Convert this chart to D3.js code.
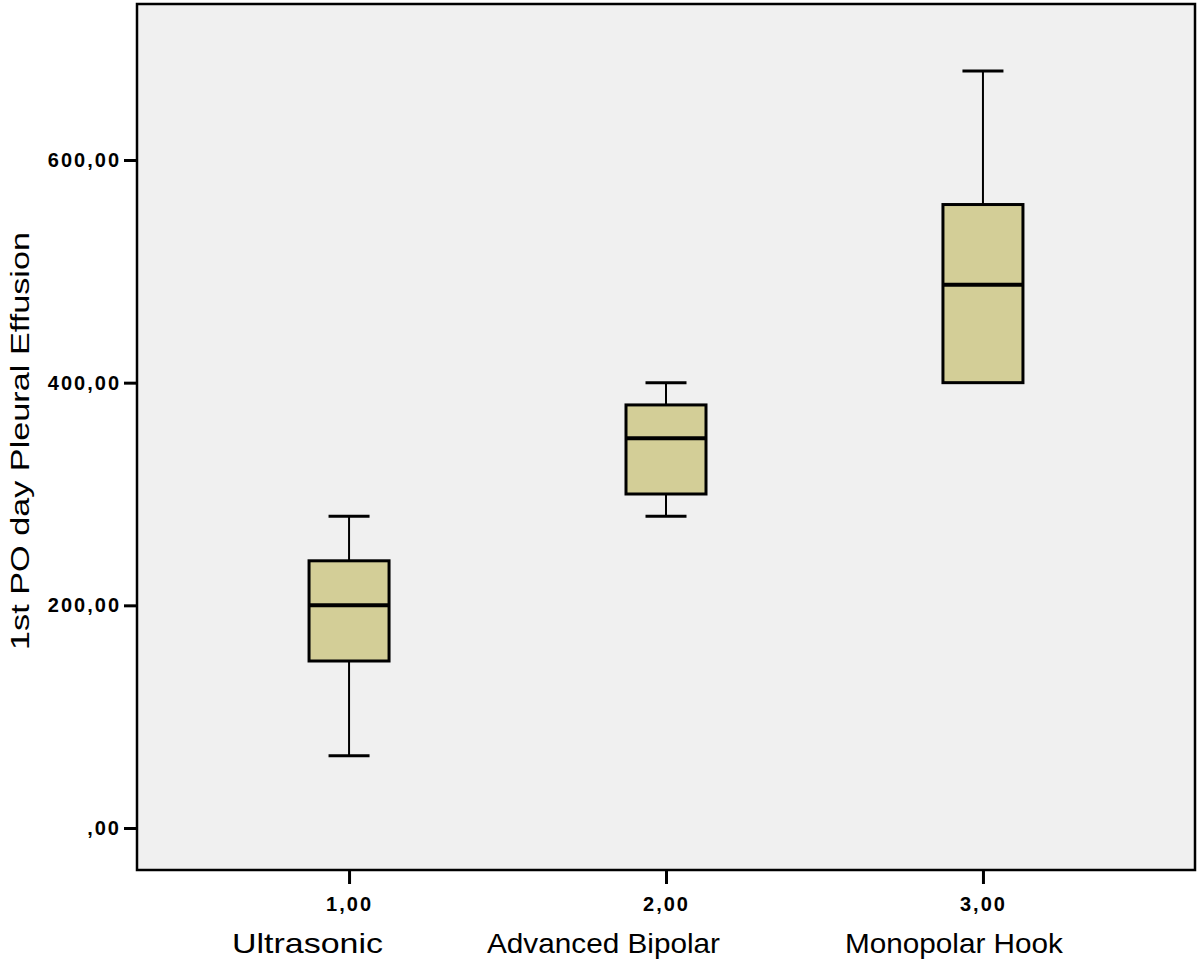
<!DOCTYPE html>
<html>
<head>
<meta charset="utf-8">
<script src="https://cdn.jsdelivr.net/npm/d3@7"></script>
<style>
  html, body { margin: 0; padding: 0; background: #fff; }
  svg { display: block; }
</style>
</head>
<body>
<svg id="chart"></svg>
<script>
// 分组数据
const categories = ["1,00", "2,00", "3,00"];
const groupNames = ["Ultrasonic", "Advanced Bipolar", "Monopolar Hook"];
const whiskerLow = [65, 280, 400];
const quartile1 = [150, 300, 400];
const medians = [200, 350, 488];
const quartile3 = [240, 380, 560];
const whiskerHigh = [280, 400, 680];
const yTicks = [0, 200, 400, 600];
const yTitle = "1st PO day Pleural Effusion";

const width = 1200;
const height = 963;
const plot = { left: 137, right: 1195, top: 4, bottom: 870 };

const svg = d3.select("#chart")
  .attr("width", width)
  .attr("height", height)
  .style("font-family", "Arial, 'Liberation Sans', sans-serif");

const x = d3.scalePoint()
  .domain(categories)
  .range([plot.left, plot.right])
  .padding(0.669);

const y = d3.scaleLinear()
  .domain([0, 600])
  .range([828, 160]);

const boxes = categories.map((c, i) => ({
  cat: c,
  name: groupNames[i],
  lo: whiskerLow[i],
  q1: quartile1[i],
  med: medians[i],
  q3: quartile3[i],
  hi: whiskerHigh[i],
}));

// 背景
svg.append("rect")
  .attr("x", plot.left)
  .attr("y", plot.top)
  .attr("width", plot.right - plot.left)
  .attr("height", plot.bottom - plot.top)
  .attr("fill", "#f0f0f0");

const styleTicks = (g) => {
  g.select(".domain").remove();
  g.selectAll(".tick line").attr("stroke", "#000").attr("stroke-width", 3);
  g.selectAll(".tick text")
    .attr("fill", "#000")
    .style("font-size", "20px")
    .style("font-weight", "bold")
    .style("letter-spacing", "2px");
};

// y 轴
const yAxis = d3.axisLeft(y)
  .tickValues(yTicks)
  .tickSize(13)
  .tickPadding(3)
  .tickFormat((d) => (d === 0 ? "" : d) + ",00");

svg.append("g")
  .attr("transform", `translate(${plot.left},0)`)
  .call(yAxis)
  .call(styleTicks);

// x 轴
const xAxis = d3.axisBottom(x).tickSize(14).tickPadding(13);

svg.append("g")
  .attr("transform", `translate(0,${plot.bottom})`)
  .call(xAxis)
  .call(styleTicks);

// 组名
const labelDx = [-117, -179, -138];
const labelLen = [151, 233, 218];
svg.append("g")
  .selectAll("text")
  .data(boxes)
  .join("text")
  .attr("x", (d, i) => x(d.cat) + labelDx[i])
  .attr("y", 953)
  .attr("textLength", (d, i) => labelLen[i])
  .attr("lengthAdjust", "spacingAndGlyphs")
  .style("font-size", "28px")
  .attr("fill", "#000")
  .text((d) => d.name);

// y 轴标题
svg.append("text")
  .attr("transform", `translate(29,${441}) rotate(-90)`)
  .attr("text-anchor", "middle")
  .attr("textLength", 418)
  .attr("lengthAdjust", "spacingAndGlyphs")
  .style("font-size", "26px")
  .attr("fill", "#000")
  .text(yTitle);

// 箱线图
const boxW = 80;
const capW = 41;
const g = svg.append("g").selectAll("g").data(boxes).join("g");

// 上须
g.filter((d) => d.hi > d.q3)
  .append("line")
  .attr("x1", (d) => x(d.cat))
  .attr("x2", (d) => x(d.cat))
  .attr("y1", (d) => y(d.q3))
  .attr("y2", (d) => y(d.hi))
  .attr("stroke", "#000")
  .attr("stroke-width", 2);

g.filter((d) => d.hi > d.q3)
  .append("line")
  .attr("x1", (d) => x(d.cat) - capW / 2)
  .attr("x2", (d) => x(d.cat) + capW / 2)
  .attr("y1", (d) => y(d.hi))
  .attr("y2", (d) => y(d.hi))
  .attr("stroke", "#000")
  .attr("stroke-width", 3);

// 下须
g.filter((d) => d.lo < d.q1)
  .append("line")
  .attr("x1", (d) => x(d.cat))
  .attr("x2", (d) => x(d.cat))
  .attr("y1", (d) => y(d.q1))
  .attr("y2", (d) => y(d.lo))
  .attr("stroke", "#000")
  .attr("stroke-width", 2);

g.filter((d) => d.lo < d.q1)
  .append("line")
  .attr("x1", (d) => x(d.cat) - capW / 2)
  .attr("x2", (d) => x(d.cat) + capW / 2)
  .attr("y1", (d) => y(d.lo))
  .attr("y2", (d) => y(d.lo))
  .attr("stroke", "#000")
  .attr("stroke-width", 3);

g.append("rect")
  .attr("x", (d) => x(d.cat) - boxW / 2)
  .attr("y", (d) => y(d.q3))
  .attr("width", boxW)
  .attr("height", (d) => y(d.q1) - y(d.q3))
  .attr("fill", "#d3ce97")
  .attr("stroke", "#000")
  .attr("stroke-width", 3);

g.append("line")
  .attr("x1", (d) => x(d.cat) - boxW / 2)
  .attr("x2", (d) => x(d.cat) + boxW / 2)
  .attr("y1", (d) => y(d.med))
  .attr("y2", (d) => y(d.med))
  .attr("stroke", "#000")
  .attr("stroke-width", 4);

// 边框
svg.append("rect")
  .attr("x", plot.left)
  .attr("y", plot.top)
  .attr("width", plot.right - plot.left)
  .attr("height", plot.bottom - plot.top)
  .attr("fill", "none")
  .attr("stroke", "#000")
  .attr("stroke-width", 2.5);
</script>
</body>
</html>
